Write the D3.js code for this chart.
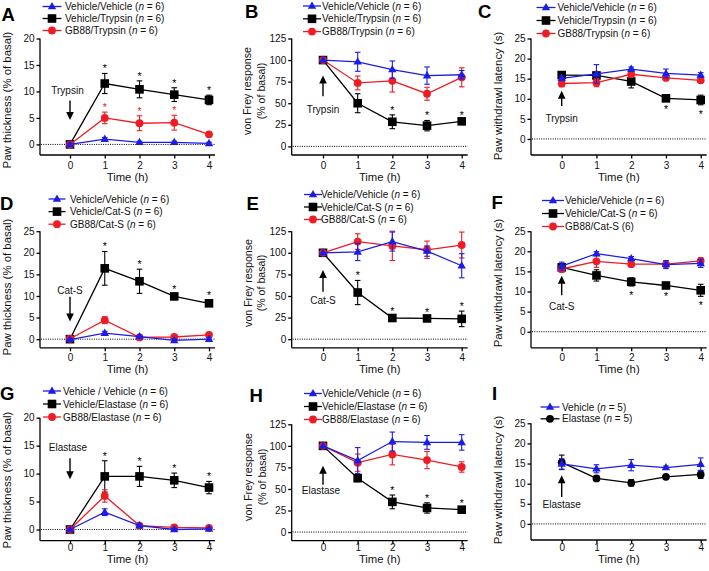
<!DOCTYPE html>
<html><head><meta charset="utf-8">
<script src="https://cdn.jsdelivr.net/npm/d3@7"></script>
<style>
body{margin:0;background:#fff}
svg{display:block}
text{font-family:Arial,"Liberation Sans",Helvetica,sans-serif;fill:#111}
</style>
</head><body>
<svg id="c" width="709" height="571"></svg>
<script>
// ---------------- DATA ----------------
const times = [0, 1, 2, 3, 4];
const xTickLabels = ["0", "1", "2", "3", "4"];
const thicknessTicksA = [0, 5, 10, 15, 20];
const thicknessTicksD = [0, 5, 10, 15, 20, 25];
const vonFreyTicks = [0, 25, 50, 75, 100, 125];
const latencyTicks = [0, 5, 10, 15, 20, 25];

// Panel A – paw thickness, trypsin
const A_legend = ["Vehicle/Vehicle (n = 6)", "Vehicle/Trypsin (n = 6)", "GB88/Trypsin (n = 6)"];
const A_vehVeh = [0, 1.0, 0.4, 0.4, 0.2];
const A_vehVeh_sem = [0.2, 0.3, 0.2, 0.2, 0.2];
const A_vehTry = [0, 11.5, 10.4, 9.4, 8.4];
const A_vehTry_sem = [0.2, 1.9, 1.6, 1.3, 0.9];
const A_gbTry = [0, 5.0, 4.0, 4.1, 1.9];
const A_gbTry_sem = [0.2, 1.1, 1.4, 1.4, 0.3];
const A_starsBlack = [1, 2, 3, 4];
const A_starsRed = [1, 2, 3];

// Panel B – von Frey, trypsin
const B_legend = ["Vehicle/Vehicle (n = 6)", "Vehicle/Trypsin (n = 6)", "GB88/Trypsin (n = 6)"];
const B_vehVeh = [100, 98, 89, 82, 83];
const B_vehVeh_sem = [0, 11, 10, 10, 5];
const B_vehTry = [100, 50, 28.5, 24, 29];
const B_vehTry_sem = [0, 11, 8, 6, 2];
const B_gbTry = [100, 73.5, 76, 61, 80];
const B_gbTry_sem = [0, 8, 13, 7.5, 11];
const B_starsBlack = [2, 3, 4];

// Panel C – paw withdrawal latency, trypsin
const C_legend = ["Vehicle/Vehicle (n = 6)", "Vehicle/Trypsin (n = 6)", "GB88/Trypsin (n = 6)"];
const C_vehVeh = [15.1, 16.2, 17.4, 16.3, 15.9];
const C_vehVeh_sem = [0.6, 2.3, 0.5, 1.1, 0.6];
const C_vehTry = [15.9, 15.8, 14.3, 10.1, 9.7];
const C_vehTry_sem = [0.5, 0.5, 1.6, 0.5, 1.2];
const C_gbTry = [13.8, 14.0, 16.1, 15.2, 14.6];
const C_gbTry_sem = [0.8, 1.0, 0.5, 0.7, 0.6];
const C_starsBlack = [3, 4];

// Panel D – paw thickness, Cat-S
const D_legend = ["Vehicle/Vehicle (n = 6)", "Vehicle/Cat-S (n = 6)", "GB88/Cat-S (n = 6)"];
const D_vehVeh = [-0.1, 1.4, 0.6, -0.3, 0.0];
const D_vehVeh_sem = [0.2, 0.4, 0.3, 0.3, 0.3];
const D_vehCat = [0, 16.4, 13.4, 9.9, 8.3];
const D_vehCat_sem = [0.2, 3.9, 2.8, 0.5, 0.7];
const D_gbCat = [0.1, 4.4, 0.4, 0.5, 1.0];
const D_gbCat_sem = [0.2, 0.8, 0.3, 0.3, 0.3];
const D_starsBlack = [1, 2, 3, 4];

// Panel E – von Frey, Cat-S
const E_legend = ["Vehicle/Vehicle (n = 6)", "Vehicle/Cat-S (n = 6)", "GB88/Cat-S  (n = 6)"];
const E_vehVeh = [100, 101, 113, 102, 85];
const E_vehVeh_sem = [0, 10, 11, 6, 14];
const E_vehCat = [100, 54, 24.5, 24, 23.5];
const E_vehCat_sem = [0, 14, 2.5, 2, 9];
const E_gbCat = [100, 113, 108, 103.5, 109];
const E_gbCat_sem = [0, 9, 17, 10, 15];
const E_starsBlack = [1, 2, 3, 4];

// Panel F – paw withdrawal latency, Cat-S
const F_legend = ["Vehicle/Vehicle (n = 6)", "Vehicle/Cat-S (n = 6)", "GB88/Cat-S (6)"];
const F_vehVeh = [16.3, 19.4, 18.2, 16.7, 17.0];
const F_vehVeh_sem = [1.0, 0.5, 0.5, 1.0, 1.0];
const F_vehCat = [16.0, 14.0, 12.4, 11.5, 10.3];
const F_vehCat_sem = [0.5, 1.4, 1.0, 0.4, 1.5];
const F_gbCat = [15.6, 17.5, 16.8, 16.8, 17.6];
const F_gbCat_sem = [0.8, 1.5, 0.5, 0.5, 0.8];
const F_starsBlack = [2, 3, 4];

// Panel G – paw thickness, elastase
const G_legend = ["Vehicle / Vehicle (n = 6)", "Vehicle/Elastase (n = 6)", "GB88/Elastase (n = 6)"];
const G_vehVeh = [0, 3.1, 0.7, 0.0, 0.1];
const G_vehVeh_sem = [0.2, 0.6, 0.3, 0.2, 0.2];
const G_vehEla = [0, 9.5, 9.5, 8.8, 7.5];
const G_vehEla_sem = [0.2, 2.8, 1.8, 1.3, 1.1];
const G_gbEla = [0, 6.0, 0.7, 0.4, 0.3];
const G_gbEla_sem = [0.2, 1.1, 0.3, 0.2, 0.2];
const G_starsBlack = [1, 2, 3, 4];

// Panel H – von Frey, elastase
const H_legend = ["Vehicle/Vehicle (n = 6)", "Vehicle/Elastase (n = 6)", "GB88/Elastase (n = 6)"];
const H_vehVeh = [100, 83, 105, 104, 104];
const H_vehVeh_sem = [0, 15, 11, 8, 9];
const H_vehEla = [100, 62.5, 35, 28, 26];
const H_vehEla_sem = [0, 4, 8, 6, 2];
const H_gbEla = [100, 80.5, 90, 83.5, 75.5];
const H_gbEla_sem = [0, 10, 12, 10, 6];
const H_starsBlack = [2, 3, 4];

// Panel I – paw withdrawal latency, elastase
const I_legend = ["Vehicle (n = 5)", "Elastase (n = 5)"];
const I_veh = [14.9, 13.7, 14.6, 14.0, 14.8];
const I_veh_sem = [1.3, 1.0, 1.4, 0.4, 1.6];
const I_ela = [15.3, 11.3, 10.2, 11.7, 12.3];
const I_ela_sem = [1.8, 0.5, 0.8, 0.5, 1.0];

// Axis titles & annotations
const titleThickness = ["Paw thickness (% of basal)"];
const titleVonFrey = ["von Frey response", "(% of basal)"];
const titleLatency = ["Paw withdrawl latency (s)"];
const xTitle = "Time (h)";
const agents = ["Trypsin", "Cat-S", "Elastase"];

// ---------------- STYLE ----------------
const BLUE = "#1c1ce8", BLACK = "#000000", RED = "#ee1c24";

// ---------------- LAYOUT ----------------
const col = [
  {ax: 40, x0: 70, x4: 209},
  {ax: 291.7, x0: 323, x4: 461.7},
  {ax: 531, x0: 561.7, x4: 700.7}
];

function S(color, shape, values, sem, stars, dir) {
  return {color, shape, values, sem, stars: stars || [], dir: dir || "up"};
}

const panels = [
  {L: "A", c: 0, letter: [1.5, 20.5], yTop: 38.5, yBot: 155, dom: [-2, 20], ticks: thicknessTicksA,
   title: titleThickness, tx: [7], tyc: 100, tickOff: 13.6, titleOff: 26,
   leg: {mx: 52, half: 9.5, tx: 65, y0: 6.5, dy: 12}, legend: A_legend,
   series: [S(BLACK, "square", A_vehTry, A_vehTry_sem, A_starsBlack), S(RED, "circle", A_gbTry, A_gbTry_sem, A_starsRed), S(BLUE, "triangle", A_vehVeh, A_vehVeh_sem)],
   legOrder: [2, 0, 1],
   arrow: {dir: "down", label: agents[0], ly: 10.2, from: 8.3, to: 4.6, lx: -2.5}},
  {L: "B", c: 1, letter: [245, 17.5], yTop: 38.5, yBot: 155, dom: [-10, 125], ticks: vonFreyTicks,
   title: titleVonFrey, tx: [247.5, 261], tyc: 91, tickOff: 13.6, titleOff: 26,
   leg: {mx: 312, half: 9, tx: 322, y0: 6, dy: 12.8}, legend: B_legend,
   series: [S(BLACK, "square", B_vehTry, B_vehTry_sem, B_starsBlack), S(RED, "circle", B_gbTry, B_gbTry_sem), S(BLUE, "triangle", B_vehVeh, B_vehVeh_sem)],
   legOrder: [2, 0, 1],
   arrow: {dir: "up", label: agents[0], ly: 42.5, from: 58, to: 82, lx: 0}},
  {L: "C", c: 2, letter: [478, 18.3], yTop: 38.5, yBot: 155, dom: [-4, 25], ticks: latencyTicks,
   title: titleLatency, tx: [498], tyc: 96, tickOff: 13.6, titleOff: 26,
   leg: {mx: 546, half: 9.5, tx: 557.5, y0: 7.5, dy: 13}, legend: C_legend,
   series: [S(BLACK, "square", C_vehTry, C_vehTry_sem, C_starsBlack, "down"), S(RED, "circle", C_gbTry, C_gbTry_sem), S(BLUE, "triangle", C_vehVeh, C_vehVeh_sem)],
   legOrder: [2, 0, 1],
   arrow: {dir: "up", label: agents[0], ly: 5.2, from: 8.2, to: 12.0, lx: 0}},

  {L: "D", c: 0, letter: [0, 209.5], yTop: 231.2, yBot: 347.8, dom: [-2, 25], ticks: thicknessTicksD,
   title: titleThickness, tx: [7], tyc: 287, tickOff: 13.6, titleOff: 25.5,
   leg: {mx: 57, half: 8.5, tx: 70, y0: 199, dy: 12.6}, legend: D_legend,
   series: [S(BLACK, "square", D_vehCat, D_vehCat_sem, D_starsBlack), S(RED, "circle", D_gbCat, D_gbCat_sem), S(BLUE, "triangle", D_vehVeh, D_vehVeh_sem)],
   legOrder: [2, 0, 1],
   arrow: {dir: "down", label: agents[1], ly: 11.2, from: 9.8, to: 4.1, lx: 0}},
  {L: "E", c: 1, letter: [246.5, 209.5], yTop: 231.2, yBot: 347.8, dom: [-10, 125], ticks: vonFreyTicks,
   title: titleVonFrey, tx: [248.3, 261.7], tyc: 283, tickOff: 13.6, titleOff: 25.5,
   leg: {mx: 313, half: 9, tx: 321, y0: 194.5, dy: 12.5}, legend: E_legend,
   series: [S(BLACK, "square", E_vehCat, E_vehCat_sem, E_starsBlack), S(RED, "circle", E_gbCat, E_gbCat_sem), S(BLUE, "triangle", E_vehVeh, E_vehVeh_sem)],
   legOrder: [2, 0, 1],
   arrow: {dir: "up", label: agents[1], ly: 44.6, from: 55, to: 80, lx: 0}},
  {L: "F", c: 2, letter: [491.5, 209], yTop: 231.2, yBot: 347.8, dom: [-4, 25], ticks: latencyTicks,
   title: titleLatency, tx: [498], tyc: 283, tickOff: 13.6, titleOff: 25.5,
   leg: {mx: 553, half: 11, tx: 565, y0: 200.5, dy: 13}, legend: F_legend,
   series: [S(BLACK, "square", F_vehCat, F_vehCat_sem, F_starsBlack, "down"), S(RED, "circle", F_gbCat, F_gbCat_sem), S(BLUE, "triangle", F_vehVeh, F_vehVeh_sem)],
   legOrder: [2, 0, 1],
   arrow: {dir: "up", label: agents[1], ly: 6.2, from: 9.1, to: 13.9, lx: 0}},

  {L: "G", c: 0, letter: [0, 399.5], yTop: 417.7, yBot: 540.7, dom: [-2, 20], ticks: thicknessTicksA,
   title: titleThickness, tx: [7], tyc: 480, tickOff: 10.3, titleOff: 22.7,
   leg: {mx: 52, half: 9, tx: 63, y0: 391, dy: 13}, legend: G_legend,
   series: [S(BLACK, "square", G_vehEla, G_vehEla_sem, G_starsBlack), S(RED, "circle", G_gbEla, G_gbEla_sem), S(BLUE, "triangle", G_vehVeh, G_vehVeh_sem)],
   legOrder: [2, 0, 1],
   arrow: {dir: "down", label: agents[2], ly: 14.6, from: 12.75, to: 9.0, lx: -2}},
  {L: "H", c: 1, letter: [249.5, 401.5], yTop: 424.3, yBot: 540.7, dom: [-10, 125], ticks: vonFreyTicks,
   title: titleVonFrey, tx: [248, 262], tyc: 477, tickOff: 10.3, titleOff: 22.7,
   leg: {mx: 313, half: 9, tx: 322, y0: 393.5, dy: 13}, legend: H_legend,
   series: [S(BLACK, "square", H_vehEla, H_vehEla_sem, H_starsBlack), S(RED, "circle", H_gbEla, H_gbEla_sem), S(BLUE, "triangle", H_vehVeh, H_vehVeh_sem)],
   legOrder: [2, 0, 1],
   arrow: {dir: "up", label: agents[2], ly: 48, from: 55, to: 77, lx: -2}},
  {L: "I", c: 2, letter: [492, 399.5], yTop: 423.3, yBot: 540, dom: [-4, 25], ticks: latencyTicks,
   title: titleLatency, tx: [498], tyc: 480, tickOff: 11, titleOff: 23.4,
   leg: {mx: 550, half: 9.5, tx: 562, y0: 407, dy: 11.8}, legend: I_legend,
   series: [S(BLACK, "circle", I_ela, I_ela_sem), S(BLUE, "triangle", I_veh, I_veh_sem)],
   legOrder: [1, 0],
   arrow: {dir: "up", label: agents[2], ly: 4.7, from: 6.7, to: 12.1, lx: 0}}
];

// ---------------- DRAW ----------------
const svg = d3.select("#c");
svg.append("rect").attr("width", 709).attr("height", 571).attr("fill", "#fff");

function marker(g, shape, x, y, color) {
  if (shape === "square") {
    g.append("rect").attr("x", x - 4.3).attr("y", y - 4.3).attr("width", 8.6).attr("height", 8.6).attr("fill", color);
  } else if (shape === "circle") {
    g.append("circle").attr("cx", x).attr("cy", y).attr("r", 3.9).attr("fill", color);
  } else {
    const s = 8.4, h = s * 0.87;
    g.append("path").attr("d", `M${x},${y - h * 0.62}L${x + s / 2},${y + h * 0.38}L${x - s / 2},${y + h * 0.38}Z`).attr("fill", color);
  }
}

function italicN(textSel, label) {
  const m = label.match(/^(.*\()n(\s*=\s*\d+\))$/);
  if (m) {
    textSel.append("tspan").text(m[1]);
    textSel.append("tspan").attr("font-style", "italic").text("n");
    textSel.append("tspan").text(m[2]);
  } else textSel.text(label);
}

panels.forEach(p => {
  const C = col[p.c];
  const g = svg.append("g");
  const x = d3.scaleLinear().domain([0, 4]).range([C.x0, C.x4]);
  const y = d3.scaleLinear().domain(p.dom).range([p.yBot, p.yTop]);
  const xEnd = C.x4 + 6;

  // panel letter
  g.append("text").attr("x", p.letter[0]).attr("y", p.letter[1]).attr("font-size", 18.5).attr("font-weight", "bold").style("fill", "#000").text(p.L);

  // y axis
  const yAxis = d3.axisLeft(y).tickValues(p.ticks).tickSize(3.5).tickPadding(2).tickFormat(d3.format("d"));
  const yg = g.append("g").attr("transform", `translate(${C.ax},0)`).call(yAxis);
  yg.select(".domain").attr("d", `M0,${y(p.ticks[p.ticks.length - 1])}V${p.yBot}`);
  yg.selectAll("line,path").attr("stroke", "#000").attr("stroke-width", 1.3);
  yg.selectAll("text").attr("font-size", 10).attr("font-family", "Arial, 'Liberation Sans', sans-serif").style("fill", "#111");

  // x axis
  const xAxis = d3.axisBottom(x).tickValues(times).tickSize(3.5).tickPadding(2).tickFormat((d, i) => xTickLabels[i]);
  const xg = g.append("g").attr("transform", `translate(0,${p.yBot})`).call(xAxis);
  xg.select(".domain").attr("d", `M${C.ax},0H${xEnd}`);
  xg.selectAll("line,path").attr("stroke", "#000").attr("stroke-width", 1.3);
  xg.selectAll("text").attr("font-size", 10).attr("y", p.tickOff).attr("dy", 0).attr("font-family", "Arial, 'Liberation Sans', sans-serif").style("fill", "#111");

  // x title
  g.append("text").attr("x", (C.ax + xEnd) / 2).attr("y", p.yBot + p.titleOff).attr("text-anchor", "middle").attr("font-size", 11.3).text(xTitle);

  // y title
  p.title.forEach((t, i) => {
    g.append("text").attr("transform", `translate(${p.tx[i]},${p.tyc}) rotate(-90)`).attr("dy", "0.35em")
      .attr("text-anchor", "middle").attr("font-size", p.title.length > 1 ? 10.6 : 11.4).text(t);
  });

  // zero dotted line
  g.append("line").attr("x1", C.ax + 1).attr("x2", xEnd).attr("y1", y(0)).attr("y2", y(0))
    .attr("stroke", "#000").attr("stroke-width", 1).attr("stroke-dasharray", "1,1.3");

  // series
  const line = d3.line().x((d, i) => x(times[i])).y(d => y(d));
  p.series.forEach(s => {
    const sg = g.append("g");
    sg.append("path").attr("d", line(s.values)).attr("fill", "none").attr("stroke", s.color).attr("stroke-width", 1.3);
    s.values.forEach((v, i) => {
      const e = s.sem[i];
      if (e > 0) {
        const xx = x(times[i]);
        sg.append("line").attr("x1", xx).attr("x2", xx).attr("y1", y(v + e)).attr("y2", y(v - e)).attr("stroke", s.color).attr("stroke-width", 1.1);
        [v + e, v - e].forEach(b => sg.append("line").attr("x1", xx - 2.8).attr("x2", xx + 2.8).attr("y1", y(b)).attr("y2", y(b)).attr("stroke", s.color).attr("stroke-width", 1.1));
      }
    });
    s.values.forEach((v, i) => marker(sg, s.shape, x(times[i]), y(v), s.color));
    // significance stars
    s.stars.forEach(t => {
      const i = times.indexOf(t);
      const v = s.values[i], e = s.sem[i];
      const cy = s.dir === "up" ? y(v + e) - 7 : y(v - e) + 7;
      sg.append("text").attr("x", x(t)).attr("y", cy + 6).attr("text-anchor", "middle").attr("font-size", 10.5)
        .style("fill", s.color === RED ? RED : "#000").text("*");
    });
  });

  // arrow annotation
  const a = p.arrow, ax0 = x(0);
  const yFrom = y(a.from), yTo = y(a.to);
  const sign = yTo > yFrom ? 1 : -1;
  g.append("line").attr("x1", ax0).attr("x2", ax0).attr("y1", yFrom).attr("y2", yTo - sign * 7)
    .attr("stroke", "#000").attr("stroke-width", 1.4);
  g.append("path").attr("d", `M${ax0},${yTo}L${ax0 - 3.8},${yTo - sign * 8}L${ax0 + 3.8},${yTo - sign * 8}Z`).attr("fill", "#000");
  g.append("text").attr("x", ax0 + a.lx).attr("y", y(a.ly)).attr("dy", "0.35em").attr("text-anchor", "middle").attr("font-size", 10).text(a.label);

  // legend
  p.legOrder.forEach((si, row) => {
    const s = p.series[si];
    const ly = p.leg.y0 + row * p.leg.dy;
    g.append("line").attr("x1", p.leg.mx - p.leg.half).attr("x2", p.leg.mx + p.leg.half).attr("y1", ly).attr("y2", ly)
      .attr("stroke", s.color).attr("stroke-width", 1.3);
    marker(g, s.shape, p.leg.mx, ly, s.color);
    const t = g.append("text").attr("x", p.leg.tx).attr("y", ly).attr("dy", "0.35em").attr("font-size", 10);
    italicN(t, p.legend[row]);
  });
});
</script>
</body></html>
